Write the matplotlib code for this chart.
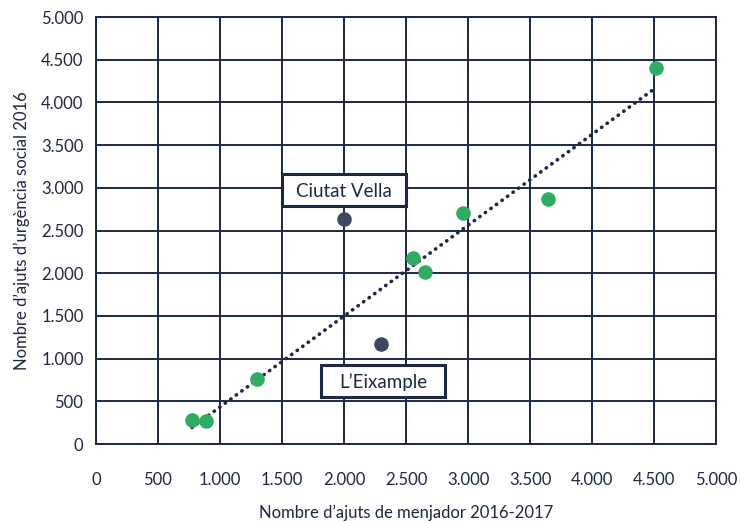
import numpy as np
import matplotlib.pyplot as plt
from matplotlib.patches import Rectangle
from matplotlib.ticker import FuncFormatter

# ajuts de menjador (x) vs ajuts d'urgència social (y), per districte
green_x = [774, 887, 1298, 2556, 2653, 2960, 3645, 4516]
green_y = [281, 269, 761, 2178, 2014, 2705, 2869, 4403]
dark_labels = ['Ciutat Vella', 'L\u2019Eixample']
dark_x = [2000, 2298]
dark_y = [2635, 1171]

NAVY = '#1b2945'
GREEN = '#2eac63'
DARK = '#3c4960'

plt.rcParams['font.family'] = ['Lato', 'DejaVu Sans']

fig = plt.figure(figsize=(7.4, 5.22), dpi=100)
ax = fig.add_axes([0.1297, 0.1494, 0.8379, 0.818])

# trend line fitted to the green points
slope, intercept = np.polyfit(green_x, green_y, 1)
tx = np.array([min(green_x), max(green_x)])
ax.plot(tx, slope * tx + intercept, color=NAVY, lw=2.6,
        linestyle=(0, (0.1, 1.8)), dash_capstyle='round', zorder=3)

ax.scatter(green_x, green_y, s=110, color=GREEN, zorder=4, linewidths=0)
ax.scatter(dark_x, dark_y, s=110, color=DARK, zorder=4, linewidths=0)


def label_box(cx, cy, text):
    # fixed-size framed label (same size for both districts)
    w, h = 1005, 372
    ax.add_patch(Rectangle((cx - w / 2, cy - h / 2), w, h, fc='white',
                           ec=NAVY, lw=2.2, zorder=5))
    ax.text(cx, cy, text, ha='center', va='center_baseline', fontsize=13.5,
            color=NAVY, zorder=6)


label_box(dark_x[0], dark_y[0] + 340, dark_labels[0])
label_box(dark_x[1] + 17, dark_y[1] - 433, dark_labels[1])

ax.set_xlim(0, 5000)
ax.set_ylim(0, 5000)
ax.set_xticks(range(0, 5001, 500))
ax.set_yticks(range(0, 5001, 500))
fmt = FuncFormatter(lambda v, p: f'{int(v):,}'.replace(',', '.'))
ax.xaxis.set_major_formatter(fmt)
ax.yaxis.set_major_formatter(fmt)
ax.tick_params(length=0, labelsize=12, colors=NAVY)
ax.tick_params(axis='x', pad=20)
ax.tick_params(axis='y', pad=9)
ax.grid(True, color=NAVY, lw=1.4)
ax.set_axisbelow(True)
for s in ax.spines.values():
    s.set_color(NAVY)
    s.set_linewidth(1.4)

ax.set_xlabel('Nombre d\u2019ajuts de menjador 2016-2017', fontsize=12,
              color=NAVY, labelpad=12)
ax.set_ylabel('Nombre d\u2019ajuts d\u2019urgència social 2016', fontsize=12,
              color=NAVY, labelpad=8)

fig.savefig('out.png', dpi=100)
